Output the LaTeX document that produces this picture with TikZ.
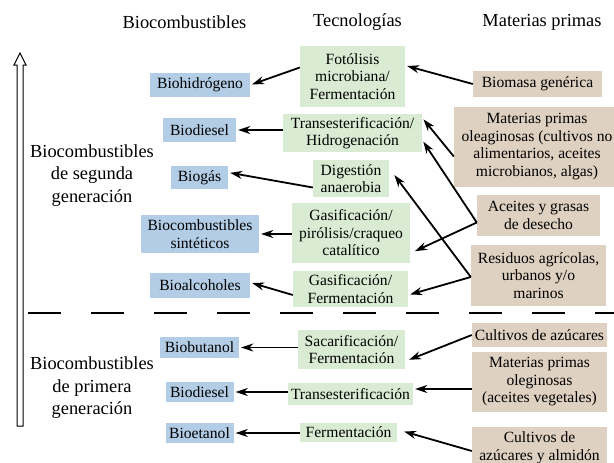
\documentclass[tikz,border=0pt]{standalone}
\usepackage{fontspec}
\setmainfont{Liberation Serif}
\usetikzlibrary{arrows.meta,positioning}
\definecolor{fuelblue}{RGB}{178,205,229}
\definecolor{techgreen}{RGB}{217,236,211}
\definecolor{feedtan}{RGB}{222,209,193}

\begin{document}
\begin{tikzpicture}[x=1pt,y=-1pt,
        box/.style={inner sep=0pt,align=center,font=\fontsize{15.6}{17.5}\selectfont},
        fuel/.style={box,fill=fuelblue},
        tech/.style={box,fill=techgreen},
        feed/.style={box,fill=feedtan},
        head/.style={align=center,font=\fontsize{18.4}{22.5}\selectfont},
        arr/.style={-{Stealth[length=12pt,width=8pt]},line width=1.8pt,shorten >=2pt}]
        \useasboundingbox (0,0) rectangle (614,463);

        % column titles
        \node[head] (hfuel) at (184.5,22) {Biocombustibles};
        \node[head] (htech) at (357.5,22) {Tecnologías};
        \node[head] (hfeed) at (542,22) {Materias primas};

        % generations
        \draw[line width=1pt,fill=white] (17,426) -- (17,65) -- (14,65) -- (20,53) -- (26,65) -- (23,65) -- (23,426) -- cycle;
        \node[head] (gen2) at (92,175.5) {Biocombustibles\\de segunda\\generación};
        \node[head] (gen1) at (92,388) {Biocombustibles\\de primera\\generación};
        \draw[line width=1.8pt,dash pattern=on 33pt off 30pt] (28,313) -- (614,313);

        % biocombustibles
        \node[fuel,minimum width=100pt,minimum height=24pt] (bhid) at (200,85) {Biohidrógeno};
        \node[fuel,minimum width=73pt,minimum height=24pt] (bdie2) at (199.5,130) {Biodiesel};
        \node[fuel,minimum width=57pt,minimum height=23pt] (bgas) at (199.5,177.5) {Biogás};
        \node[fuel,minimum width=118pt,minimum height=38pt] (bsin) at (200,234) {Biocombustibles\\sintéticos};
        \node[fuel,minimum width=100pt,minimum height=25pt] (balc) at (200,285.5) {Bioalcoholes};
        \node[fuel,minimum width=79pt,minimum height=21pt] (bbut) at (199.5,347.5) {Biobutanol};
        \node[fuel,minimum width=68pt,minimum height=20pt] (bdie1) at (199.5,392) {Biodiesel};
        \node[fuel,minimum width=68pt,minimum height=20pt] (beta) at (199.5,433) {Bioetanol};

        % tecnologias
        \node[tech,minimum width=105pt,minimum height=61pt] (fot) at (352.5,76.5) {Fotólisis\\microbiana/\\Fermentación};
        \node[tech,minimum width=139pt,minimum height=38pt] (tra2) at (352.5,133) {Transesterificación/\\Hidrogenación};
        \node[tech,minimum width=76pt,minimum height=37pt] (dig) at (351,178.5) {Digestión\\anaerobia};
        \node[tech,minimum width=118pt,minimum height=60pt] (gpc) at (351,233) {Gasificación/\\pirólisis/craqueo\\catalítico};
        \node[tech,minimum width=115pt,minimum height=36pt] (gfe) at (350.5,289) {Gasificación/\\Fermentación};
        \node[tech,minimum width=107pt,minimum height=39pt] (sac) at (351.5,349.5) {Sacarificación/\\Fermentación};
        \node[tech,minimum width=125pt,minimum height=22pt] (tra1) at (350.5,394) {Transesterificación};
        \node[tech,minimum width=97pt,minimum height=19pt] (fer) at (348.5,432.5) {Fermentación};

        % materias primas
        \node[feed,minimum width=129pt,minimum height=26pt] (bgen) at (537.5,84) {Biomasa genérica};
        \node[feed,minimum width=166pt,minimum height=80pt] (mpo) at (537,146.5) {Materias primas\\oleaginosas (cultivos no\\alimentarios, aceites\\microbianos, algas)};
        \node[feed,minimum width=123pt,minimum height=41pt] (ace) at (538.5,215.5) {Aceites y grasas\\de desecho};
        \node[feed,minimum width=135pt,minimum height=61pt] (res) at (538.5,275.5) {Residuos agrícolas,\\urbanos y/o\\marinos};
        \node[feed,minimum width=135pt,minimum height=24pt] (cul1) at (539.5,335) {Cultivos de azúcares};
        \node[feed,minimum width=135pt,minimum height=60pt] (mpo1) at (539.5,382) {Materias primas\\oleginosas\\(aceites vegetales)};
        \node[feed,minimum width=135pt,minimum height=42pt] (cul2) at (539.5,448) {Cultivos de\\azúcares y almidón};

        \coordinate (aceJ) at ([yshift=-7pt]ace.west);
        \coordinate (resJ) at ([yshift=-1.5pt]res.west);

        % segunda generacion
        \draw[arr] ([yshift=9pt]fot.west) -- (bhid.east);
        \draw[arr] (tra2.west |- bdie2.east) -- (bdie2.east);
        \draw[arr] ([yshift=-9pt]dig.west) -- ([yshift=5pt]bgas.east);
        \draw[arr] (gpc.west |- bsin.east) -- (bsin.east);
        \draw[arr] ([yshift=-6pt]gfe.west) -- ([yshift=3pt]balc.east);
        \draw[arr] (bgen.west) -- ([yshift=11pt]fot.east);
        \draw[arr] ([yshift=-10pt]mpo.west) -- ([yshift=-4pt]tra2.north east);
        \draw[arr] (aceJ) -- ([yshift=-7pt]tra2.east);
        \draw[arr] (aceJ) -- ([xshift=3pt,yshift=-19pt]gpc.east);
        \draw[arr] (resJ) -- ([xshift=4pt,yshift=5pt]dig.east);
        \draw[arr] (resJ) -- ([yshift=-6pt]gfe.east);

        % primera generacion
        \draw[arr] (sac.west |- bbut.east) -- (bbut.east);
        \draw[arr] (tra1.west |- bdie1.east) -- (bdie1.east);
        \draw[arr] (fer.west |- beta.east) -- (beta.east);
        \draw[arr] (cul1.west) -- ([xshift=2pt,yshift=-11pt]sac.east);
        \draw[arr] ([yshift=-7pt]mpo1.west) -- ([yshift=5pt]tra1.east);
        \draw[arr] ([yshift=-3pt]cul2.west) -- ([xshift=5pt,yshift=1.5pt]fer.east);
\end{tikzpicture}
\end{document}
